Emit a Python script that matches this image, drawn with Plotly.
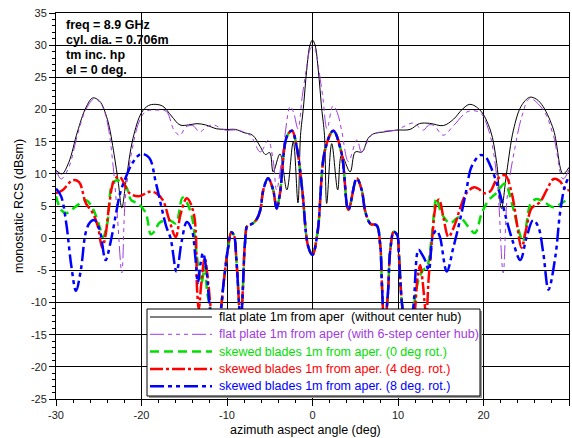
import plotly.graph_objects as go

# ---- flat plate, no hub (solid black) ----
black_x = [-30.0, -29.3, -28.5, -27.5, -26.5, -25.7, -24.9, -24.0, -23.2, -22.7,
           -22.3, -21.8, -21.0, -20.0, -19.2, -18.4, -17.5, -16.5, -15.5, -14.5,
           -13.5, -12.5, -11.2, -10.0, -9.0, -8.0, -7.0, -6.1, -5.5, -5.0,
           -4.6, -3.8, -3.0, -2.25, -1.7, -1.4, -1.07, -0.68, -0.3, 0.0,
           0.3, 0.68, 1.07, 1.4, 1.66, 2.25, 2.95, 3.4, 4.4, 5.0,
           5.8, 6.5, 7.1, 8.3, 9.85, 11.4, 12.5, 13.7, 15.3, 16.5,
           17.5, 18.4, 19.6, 20.8, 21.55, 22.1, 22.7, 23.5, 24.4, 25.4,
           26.2, 27.0, 28.2, 29.3, 30.0]
black_y = [10.6, 10.0, 11.8, 16.5, 20.3, 21.8, 21.3, 18.5, 13.0, 8.5,
           4.7, 9.0, 15.5, 19.5, 20.6, 20.8, 20.5, 19.0, 17.6, 17.6,
           17.8, 17.6, 17.0, 16.9, 16.9, 16.4, 16.0, 14.2, 13.0, 13.3,
           10.3, 13.1, 7.5, 15.0, 5.5, 16.0, 20.2, 26.1, 30.0, 30.8,
           30.0, 26.1, 20.2, 16.0, 5.4, 14.7, 7.5, 12.9, 10.3, 13.4,
           13.4, 15.5, 16.2, 16.5, 16.8, 16.9, 17.8, 17.85, 17.5, 18.5,
           20.0, 20.8, 19.9, 16.8, 11.6, 4.6, 10.1, 16.8, 20.5, 21.9,
           21.6, 20.4, 16.8, 10.0, 11.0]

# ---- flat plate with 6-step hub (purple dashed) ----
purple_x = [-30.0, -29.4, -28.5, -27.5, -26.5, -25.5, -24.7, -24.0, -23.3, -22.8,
            -22.3, -21.9, -21.2, -20.3, -19.5, -18.3, -17.1, -16.2, -15.5, -14.8,
            -14.0, -13.2, -12.4, -11.6, -10.2, -8.9, -7.3, -6.1, -5.2, -4.6,
            -4.2, -3.4, -2.6, -2.2, -1.7, -1.2, -0.7, -0.3, 0.0, 0.3,
            0.7, 1.2, 1.7, 2.4, 2.9, 3.4, 4.2, 5.2, 5.75, 6.9,
            8.3, 9.85, 10.6, 11.8, 12.4, 13.0, 13.6, 14.2, 15.3, 16.5,
            18.2, 19.6, 20.6, 21.55, 22.3, 22.8, 23.7, 24.5, 25.4, 27.0,
            28.2, 29.3, 30.0]
purple_y = [10.6, 9.2, 11.0, 16.0, 20.0, 21.7, 20.8, 18.0, 11.0, 3.0,
            -5.4, 6.0, 13.0, 18.0, 19.7, 19.9, 19.7, 16.8, 16.0, 17.3,
            17.5, 16.5, 17.3, 17.6, 16.8, 16.8, 16.0, 13.4, 15.2, 12.1,
            7.5, 14.2, 20.5, 19.5, 17.0, 22.0, 26.5, 29.3, 29.8, 29.3,
            26.5, 22.0, 17.0, 20.6, 19.5, 16.8, 11.9, 15.3, 13.4, 16.0,
            16.6, 16.8, 17.3, 17.9, 17.3, 16.8, 17.6, 17.5, 16.0, 17.5,
            19.7, 19.5, 16.8, 9.6, -5.4, 6.8, 14.2, 19.0, 21.7, 19.9,
            15.8, 9.2, 10.6]

# ---- skewed blades: central region shared by all three rotations ----
core_x = [-10.7, -10.4, -9.85, -9.5, -9.2, -8.9, -8.6, -8.4, -8.15, -7.9,
          -7.6, -7.1, -6.5, -6.1, -5.75, -5.2, -4.6, -4.2, -3.8, -3.0,
          -2.4, -1.85, -1.2, -0.5, 0.0, 0.6, 1.46, 2.43, 3.4, 4.2,
          5.17, 5.75, 6.2, 6.8, 7.5, 7.9, 8.13, 8.4, 8.8, 9.1,
          9.5, 9.9, 10.1, 10.5]
core_y = [-11.0, -7.0, -1.3, 0.9, 0.5, -3.4, -10.0, -14.0, -8.0, -0.8,
          2.0, 2.2, 3.0, 4.4, 7.5, 9.3, 7.5, 4.6, 7.0, 15.8,
          16.7, 14.2, 7.5, -1.3, -2.6, 1.0, 13.7, 16.7, 13.2, 4.4,
          9.3, 7.5, 4.0, 2.2, 2.0, -0.8, -7.5, -14.0, -9.0, -1.8,
          1.0, 0.5, -2.4, -10.6]

# 0 deg rotation (green)
green_left_x = [-30.0, -29.4, -28.8, -27.7, -26.5, -25.7, -24.9, -24.5, -24.0, -23.4,
                -22.8, -21.8, -21.2, -20.4, -19.5, -18.9, -18.4, -17.9, -16.7, -16.0,
                -15.2, -14.8, -14.1, -13.6, -13.0, -12.6, -12.3, -11.9, -11.3]
green_left_y = [6.5, 4.4, 3.9, 4.9, 5.9, 4.6, 1.8, 0.2, 2.3, 8.5,
                9.0, 8.0, 5.9, 5.4, 3.9, 0.6, 1.2, 2.4, 2.8, 2.3,
                6.3, 5.8, 3.3, -2.0, -7.0, -4.5, -8.6, -11.0, -16.0]
green_right_x = [11.2, 11.8, 12.4, 12.9, 13.4, 13.9, 14.5, 14.9, 15.5, 16.1,
                 16.8, 17.25, 18.2, 19.0, 19.8, 20.6, 21.5, 22.5, 23.3, 24.1,
                 24.6, 25.0, 25.5, 26.2, 27.2, 28.2, 29.2, 30.0]
green_right_y = [-16.0, -11.0, -6.5, -5.0, -4.4, -0.3, 6.2, 4.5, 3.0, 2.3,
                 3.0, 3.3, 1.8, 0.8, 3.9, 5.9, 7.0, 8.5, 5.5, 1.3,
                 -0.5, 2.0, 5.3, 6.1, 5.5, 4.8, 5.5, 6.2]

# 4 deg rotation (red)
red_left_x = [-30.0, -29.2, -28.05, -27.3, -26.5, -25.7, -25.1, -24.6, -24.2, -23.8,
              -23.2, -22.6, -21.4, -20.3, -19.1, -18.3, -17.5, -16.75, -16.0, -15.4,
              -14.7, -13.9, -13.5, -13.3, -13.0, -12.6, -12.2, -11.8, -11.2]
red_left_y = [7.0, 7.5, 9.0, 8.7, 5.4, 3.9, 1.8, -1.5, 0.5, 4.9,
              9.0, 9.6, 7.0, 6.5, 7.2, 7.0, 5.9, 2.8, 0.2, 3.9,
              6.2, 3.9, -8.0, -11.0, -7.0, -3.1, -6.9, -12.0, -16.0]
red_right_x = [11.2, 11.9, 12.3, 12.6, 12.9, 13.3, 13.6, 14.0, 14.5, 14.8,
               15.3, 15.9, 16.7, 17.25, 18.0, 18.9, 19.5, 20.0, 20.8, 21.5,
               22.5, 23.3, 23.9, 24.45, 25.05, 25.6, 26.6, 27.4, 28.2, 28.9,
               29.7, 30.0]
red_right_y = [-16.0, -12.0, -6.0, -4.2, -7.0, -12.0, -6.0, 0.0, 5.5, 6.0,
               3.3, 0.2, 2.3, 4.6, 7.0, 7.9, 7.6, 7.0, 7.3, 9.0,
               9.8, 7.0, 2.3, -1.5, 1.8, 4.6, 5.6, 7.5, 9.2, 8.9,
               7.4, 7.5]

# 8 deg rotation (blue)
blue_left_x = [-30.0, -29.4, -28.8, -28.2, -27.66, -27.1, -26.5, -26.0, -25.5, -24.9,
               -24.2, -23.6, -22.9, -22.5, -21.8, -21.0, -20.05, -19.1, -18.3, -17.1,
               -16.6, -15.9, -15.3, -14.7, -14.1, -13.7, -13.4, -13.1, -12.8, -12.4,
               -12.0, -11.3]
blue_left_y = [7.7, 6.5, 2.3, -4.4, -8.2, -5.0, 1.0, 2.5, 2.8, 1.3,
               -3.4, -0.5, 4.4, 7.0, 9.6, 11.8, 13.1, 12.5, 8.5, 1.8,
               0.0, -5.2, -0.5, 2.5, 1.2, -3.0, -7.0, -4.0, -2.3, -5.0,
               -11.0, -16.0]
blue_right_x = [11.2, 11.8, 12.4, 12.8, 13.2, 13.6, 14.1, 14.5, 14.9, 15.7,
                16.5, 17.25, 18.0, 18.6, 19.6, 20.2, 21.0, 21.9, 22.7, 23.5,
                24.3, 25.05, 25.8, 26.4, 27.0, 27.6, 28.4, 28.95, 29.5, 30.0]
blue_right_y = [-16.0, -10.6, -1.8, -2.5, -3.5, -5.0, 0.5, 1.2, 0.2, -5.2,
                -1.3, 2.8, 7.5, 11.1, 12.9, 12.7, 10.6, 7.0, 2.8, -0.8,
                -3.4, 0.2, 2.8, 1.8, -2.4, -8.0, -2.9, 3.9, 8.0, 9.6]

series_names = [
    "flat plate 1m from aper\u00a0 (without center hub)",
    "flat plate 1m from aper (with 6-step center hub)",
    "skewed blades 1m from aper. (0 deg rot.)",
    "skewed blades 1m from aper. (4 deg. rot.)",
    "skewed blades 1m from aper. (8 deg. rot.)",
]

x_ticks = [-30, -20, -10, 0, 10, 20, 30]
x_tick_labels = ["-30", "-20", "-10", "0", "10", "20", "30"]
y_ticks = [-25, -20, -15, -10, -5, 0, 5, 10, 15, 20, 25, 30, 35]
y_tick_labels = ["-25", "-20", "-15", "-10", "-5", "0", "5", "10", "15", "20", "25", "30", "35"]

info_lines = ["freq = 8.9 GHz", "cyl. dia. = 0.706m", "tm inc. hp", "el = 0 deg."]

FONT = "Liberation Sans, Arial, sans-serif"
C_BLACK, C_PURPLE, C_GREEN, C_RED, C_BLUE = "#000000", "#a03be0", "#00e000", "#ff0000", "#0000ff"

# plot-area geometry in pixels (used to place the key box and text in paper units)
W, H = 572, 438
L, R, T, B = 56, 3, 13, 39
PW, PH = W - L - R, H - T - B


def px_x(px):
    return (px - L) / PW


def px_y(py):
    return (H - B - py) / PH


styles = [
    (C_BLACK, 1.0, "solid"),
    (C_PURPLE, 1.0, "14px,4px,4px,4px,4px,4px,4px,4px"),
    (C_GREEN, 2.5, "9px,5px"),
    (C_RED, 2.5, "13px,3px,3px,3px"),
    (C_BLUE, 2.5, "14px,4px,4px,4px,4px,4px"),
]
data = [
    (black_x, black_y),
    (purple_x, purple_y),
    (green_left_x + core_x + green_right_x, green_left_y + core_y + green_right_y),
    (red_left_x + core_x + red_right_x, red_left_y + core_y + red_right_y),
    (blue_left_x + core_x + blue_right_x, blue_left_y + core_y + blue_right_y),
]

fig = go.Figure()
for (xs, ys), name, (color, width, dash) in zip(data, series_names, styles):
    fig.add_trace(go.Scatter(
        x=xs, y=ys, name=name, mode="lines", showlegend=False,
        line=dict(color=color, width=width, dash=dash, shape="spline", smoothing=1.0),
    ))

# ---- key box (drawn over the curves, like an opaque legend) ----
box_l, box_r, box_t, box_b = 147, 480, 309, 396
shapes = [
    dict(type="rect", xref="paper", yref="paper", layer="above",
         x0=px_x(box_l + 2), x1=px_x(box_r + 2), y0=px_y(box_b + 2), y1=px_y(box_t + 2),
         line=dict(width=0), fillcolor="#9a9a9a"),
    dict(type="rect", xref="paper", yref="paper", layer="above",
         x0=px_x(box_l), x1=px_x(box_r), y0=px_y(box_b), y1=px_y(box_t),
         line=dict(color="#000000", width=1), fillcolor="#ffffff"),
]
row0, row_step = 317, 17.3
for i, (name, (color, width, dash)) in enumerate(zip(series_names, styles)):
    ry = row0 + row_step * i
    shapes.append(dict(type="line", xref="paper", yref="paper", layer="above",
                       x0=px_x(150), x1=px_x(212), y0=px_y(ry), y1=px_y(ry),
                       line=dict(color=color, width=width, dash=dash)))
    fig.add_annotation(text=name, xref="paper", yref="paper",
                       x=px_x(217), y=px_y(ry), xanchor="left", yanchor="middle",
                       showarrow=False, font=dict(family=FONT, size=12.5, color=color))
fig.update_layout(shapes=shapes)

for k, txt in enumerate(info_lines):
    fig.add_annotation(
        text=f"<b>{txt}</b>", xref="paper", yref="paper",
        x=px_x(64), y=px_y(25 + 15 * k), xanchor="left", yanchor="middle",
        showarrow=False, font=dict(family=FONT, size=12.5, color="#000000"),
    )

fig.add_annotation(text="azimuth aspect angle (deg)", xref="paper", yref="paper",
                   x=0.487, y=px_y(430), xanchor="center", yanchor="middle",
                   showarrow=False, font=dict(family=FONT, size=12.5, color="#000000"))
fig.add_annotation(text="monostatic RCS (dBsm)", xref="paper", yref="paper",
                   x=px_x(19), y=0.5, xanchor="center", yanchor="middle", textangle=-90,
                   showarrow=False, font=dict(family=FONT, size=12.5, color="#000000"))

axis_common = dict(
    showline=True, linecolor="#000000", linewidth=1, mirror=True,
    showgrid=True, gridcolor="#000000", gridwidth=1, zeroline=False,
    ticks="outside", ticklen=6, tickcolor="#000000", tickwidth=1,
    tickfont=dict(family=FONT, size=11, color="#222222"),
    tickmode="array",
)

fig.update_xaxes(range=[-30, 30], tickvals=x_ticks, ticktext=x_tick_labels,
                 minor=dict(tickmode="linear", tick0=-30, dtick=2, ticks="outside",
                            ticklen=3, tickcolor="#000000", showgrid=False),
                 **axis_common)
fig.update_yaxes(range=[-25, 35], tickvals=y_ticks, ticktext=y_tick_labels,
                 minor=dict(tickmode="linear", tick0=-25, dtick=1, ticks="outside",
                            ticklen=3, tickcolor="#000000", showgrid=False),
                 **axis_common)

fig.update_layout(
    width=W, height=H,
    margin=dict(l=L, r=R, t=T, b=B),
    paper_bgcolor="#ffffff", plot_bgcolor="#ffffff",
    font=dict(family=FONT, size=12.5, color="#000000"),
    showlegend=False,
)

fig.write_html("out.html")
